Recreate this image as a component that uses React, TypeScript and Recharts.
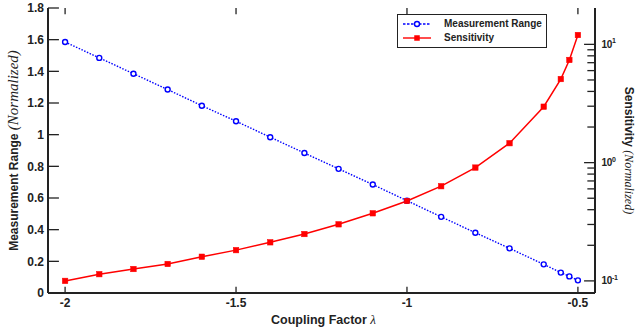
import React from "react";
import { ComposedChart, Line, XAxis, YAxis, ReferenceLine } from "recharts";

const COUPLING = [-2, -1.9, -1.8, -1.7, -1.6, -1.5, -1.4, -1.3, -1.2, -1.1, -1.0, -0.9, -0.8, -0.7, -0.6, -0.55, -0.525, -0.5];
const MEASUREMENT_RANGE = [1.585, 1.485, 1.385, 1.285, 1.183, 1.085, 0.984, 0.884, 0.784, 0.685, 0.583, 0.481, 0.381, 0.282, 0.181, 0.129, 0.105, 0.08];
const SENSITIVITY = [0.1, 0.114, 0.126, 0.139, 0.16, 0.182, 0.212, 0.249, 0.301, 0.373, 0.474, 0.632, 0.908, 1.46, 2.97, 5.09, 7.38, 12.0];

const X_TICKS = [-2, -1.5, -1, -0.5];
const LEFT_TICKS = [0, 0.2, 0.4, 0.6, 0.8, 1, 1.2, 1.4, 1.6, 1.8];
const RIGHT_MAJOR = [0.1, 1, 10];
const RIGHT_MINOR = [0.2, 0.3, 0.4, 0.5, 0.6, 0.7, 0.8, 0.9, 2, 3, 4, 5, 6, 7, 8, 9];

const SERIES_NAMES = ["Measurement Range", "Sensitivity"];
const X_TITLE = "Coupling Factor ";
const X_TITLE_SYM = "λ";
const LEFT_TITLE = "Measurement Range ";
const RIGHT_TITLE = "Sensitivity ";
const NORM = "(Normalized)";

const X_DOMAIN: [number, number] = [-2.05, -0.45];
const LEFT_DOMAIN: [number, number] = [0, 1.8];
const RIGHT_DOMAIN: [number, number] = [0.079, 20.3];

const data = COUPLING.map((x, i) => ({ x, mr: MEASUREMENT_RANGE[i], s: SENSITIVITY[i] }));

const INK = "#222222";
const SANS = "'Liberation Sans', Arial, sans-serif";
const SERIF = "'Liberation Serif', 'Times New Roman', serif";
const RED = "#ff0000";
const BLUE = "#0000ff";
const M = 8;
const TW = 1.3;
const YT = 0.022 * (LEFT_DOMAIN[1] - LEFT_DOMAIN[0]);

const BottomTick = (props: any) => {
  const { x, y, payload } = props;
  const ay = y - M;
  return (
    <text x={x} y={ay + 5} dy="0.71em" textAnchor="middle" fontFamily={SANS} fontWeight="bold" fontSize={12} fill={INK}>
      {String(payload.value)}
    </text>
  );
};

const LeftTick = (props: any) => {
  const { x, y, payload } = props;
  const ax = x + M;
  return (
    <text x={ax - 4} y={y} dy="0.355em" textAnchor="end" fontFamily={SANS} fontWeight="bold" fontSize={12} fill={INK}>
      {String(payload.value)}
    </text>
  );
};

const RightTick = (props: any) => {
  const { x, y, payload } = props;
  const v = payload.value;
  const ax = x - M;
  const exp = Math.round(Math.log10(v));
  return (
    <text x={ax + 6.5} y={y} dy="0.355em" fontFamily={SANS} fontWeight="bold" fontSize={10} fill={INK} letterSpacing={-0.3}>
      10
      <tspan dy={-4.5} fontSize={7}>{String(exp)}</tspan>
    </text>
  );
};

const Square = (props: any) => {
  const { cx, cy } = props;
  if (cx == null || cy == null) return null;
  return <rect x={cx - 2.75} y={cy - 2.75} width={5.5} height={5.5} fill={RED} stroke={RED} strokeWidth={0.5} />;
};

const Circle = (props: any) => {
  const { cx, cy } = props;
  if (cx == null || cy == null) return null;
  return <circle cx={cx} cy={cy} r={2.5} fill="#fff" stroke={BLUE} strokeWidth={1.4} />;
};

const LeftTitle = (props: any) => {
  const vb = props.viewBox;
  const cx = vb.x + 12;
  const cy = vb.y + vb.height / 2;
  return (
    <text x={cx} y={cy} transform={`rotate(-90, ${cx}, ${cy})`} textAnchor="middle" dy="0.35em" fill={INK}>
      <tspan fontFamily={SANS} fontWeight="bold" fontSize={12}>{LEFT_TITLE}</tspan>
      <tspan fontFamily={SERIF} fontStyle="italic" fontSize={15}>{NORM}</tspan>
    </text>
  );
};

const RightTitle = (props: any) => {
  const vb = props.viewBox;
  const cx = vb.x + 36;
  const cy = vb.y + vb.height / 2;
  return (
    <text x={cx} y={cy} transform={`rotate(90, ${cx}, ${cy})`} textAnchor="middle" dy="0.35em" fill={INK}>
      <tspan fontFamily={SANS} fontWeight="bold" fontSize={12}>{RIGHT_TITLE}</tspan>
      <tspan fontFamily={SERIF} fontStyle="italic" fontSize={12}>{NORM}</tspan>
    </text>
  );
};

const BottomTitle = (props: any) => {
  const vb = props.viewBox;
  const cx = vb.x + vb.width / 2 + 2;
  const cy = vb.y + 25;
  return (
    <text x={cx} y={cy} textAnchor="middle" dy="0.35em" fill={INK}>
      <tspan fontFamily={SANS} fontWeight="bold" fontSize={12.5}>{X_TITLE}</tspan>
      <tspan fontFamily={SERIF} fontStyle="italic" fontSize={13}>{X_TITLE_SYM}</tspan>
    </text>
  );
};

const LegendBox = () => (
  <div
    style={{
      position: "absolute",
      left: 397,
      top: 14,
      width: 148,
      height: 32,
      border: `1px solid ${INK}`,
      background: "#fff",
      fontFamily: SANS,
      fontWeight: "bold",
      fontSize: 10,
      color: INK,
    }}
  >
    {SERIES_NAMES.map((name, i) => (
      <div key={name} style={{ position: "absolute", left: 0, top: i === 0 ? 2 : 16, height: 14, width: 148 }}>
        <svg width={30} height={14} style={{ position: "absolute", left: 5, top: 0 }}>
          {i === 0 ? (
            <>
              <line x1={0} x2={28} y1={7} y2={7} stroke={BLUE} strokeWidth={1.4} strokeDasharray="2.5 1.5" />
              <circle cx={14} cy={7} r={2.5} fill="#fff" stroke={BLUE} strokeWidth={1.4} />
            </>
          ) : (
            <>
              <line x1={0} x2={28} y1={7} y2={7} stroke={RED} strokeWidth={1.4} />
              <rect x={11.25} y={4.25} width={5.5} height={5.5} fill={RED} />
            </>
          )}
        </svg>
        <span style={{ position: "absolute", left: 46, top: 0, lineHeight: "14px", whiteSpace: "nowrap" }}>{name}</span>
      </div>
    ))}
  </div>
);

export default function App() {
  const xt = (X_DOMAIN[1] - X_DOMAIN[0]) * 0.02;
  const xtMinor = (X_DOMAIN[1] - X_DOMAIN[0]) * 0.014;
  return (
    <div style={{ position: "absolute", left: 0, top: 0, width: 635, height: 327, background: "#fff" }}>
      <ComposedChart width={635} height={327} data={data} margin={{ top: 8, right: 0, bottom: 0, left: 0 }}>
        <XAxis
          xAxisId="bottom"
          dataKey="x"
          type="number"
          domain={X_DOMAIN}
          allowDataOverflow
          ticks={X_TICKS}
          interval={0}
          tickSize={0}
          tickMargin={M}
          tickLine={false}
          height={34}
          axisLine={{ stroke: INK, strokeWidth: 2 }}
          tick={<BottomTick />}
          label={<BottomTitle />}
        />
        <XAxis
          xAxisId="top"
          orientation="top"
          dataKey="x"
          type="number"
          domain={X_DOMAIN}
          allowDataOverflow
          ticks={X_TICKS}
          interval={0}
          tickSize={0}
          tickLine={false}
          height={0}
          tick={false}
          axisLine={{ stroke: INK, strokeWidth: 2 }}
        />
        <YAxis
          yAxisId="left"
          orientation="left"
          type="number"
          domain={LEFT_DOMAIN}
          allowDataOverflow
          ticks={LEFT_TICKS}
          interval={0}
          width={48}
          tickSize={0}
          tickMargin={M}
          tickLine={false}
          axisLine={{ stroke: INK, strokeWidth: 2 }}
          tick={<LeftTick />}
          label={<LeftTitle />}
        />
        <YAxis
          yAxisId="right"
          orientation="right"
          scale="log"
          type="number"
          domain={RIGHT_DOMAIN}
          allowDataOverflow
          ticks={RIGHT_MAJOR}
          interval={0}
          width={40}
          tickSize={0}
          tickMargin={M}
          tickLine={false}
          axisLine={{ stroke: INK, strokeWidth: 2 }}
          tick={<RightTick />}
          label={<RightTitle />}
        />

        {X_TICKS.map((t) => (
          <ReferenceLine
            key={`b${t}`}
            xAxisId="bottom"
            yAxisId="left"
            segment={[{ x: t, y: LEFT_DOMAIN[0] }, { x: t, y: LEFT_DOMAIN[0] + YT }]}
            stroke={INK}
            strokeWidth={TW}
            ifOverflow="visible"
          />
        ))}
        {X_TICKS.map((t) => (
          <ReferenceLine
            key={`t${t}`}
            xAxisId="bottom"
            yAxisId="left"
            segment={[{ x: t, y: LEFT_DOMAIN[1] }, { x: t, y: LEFT_DOMAIN[1] - YT }]}
            stroke={INK}
            strokeWidth={TW}
            ifOverflow="visible"
          />
        ))}
        {LEFT_TICKS.map((t) => (
          <ReferenceLine
            key={`l${t}`}
            xAxisId="bottom"
            yAxisId="left"
            segment={[{ x: X_DOMAIN[0], y: t }, { x: X_DOMAIN[0] + xt, y: t }]}
            stroke={INK}
            strokeWidth={TW}
            ifOverflow="visible"
          />
        ))}
        {RIGHT_MAJOR.map((t) => (
          <ReferenceLine
            key={`rM${t}`}
            xAxisId="bottom"
            yAxisId="right"
            segment={[{ x: X_DOMAIN[1], y: t }, { x: X_DOMAIN[1] - xt, y: t }]}
            stroke={INK}
            strokeWidth={TW}
            ifOverflow="visible"
          />
        ))}
        {RIGHT_MINOR.map((t) => (
          <ReferenceLine
            key={`rm${t}`}
            xAxisId="bottom"
            yAxisId="right"
            segment={[{ x: X_DOMAIN[1], y: t }, { x: X_DOMAIN[1] - xtMinor, y: t }]}
            stroke={INK}
            strokeWidth={TW}
            ifOverflow="visible"
          />
        ))}

        <Line
          xAxisId="top"
          yAxisId="left"
          dataKey="mr"
          stroke="none"
          dot={false}
          legendType="none"
          isAnimationActive={false}
        />
        <Line
          xAxisId="bottom"
          yAxisId="left"
          dataKey="mr"
          name={SERIES_NAMES[0]}
          type="linear"
          stroke={BLUE}
          strokeWidth={1.4}
          strokeDasharray="1.5 1.5"
          dot={<Circle />}
          isAnimationActive={false}
        />
        <Line
          xAxisId="bottom"
          yAxisId="right"
          dataKey="s"
          name={SERIES_NAMES[1]}
          type="linear"
          stroke={RED}
          strokeWidth={1.5}
          dot={<Square />}
          isAnimationActive={false}
        />
      </ComposedChart>
      <LegendBox />
    </div>
  );
}
